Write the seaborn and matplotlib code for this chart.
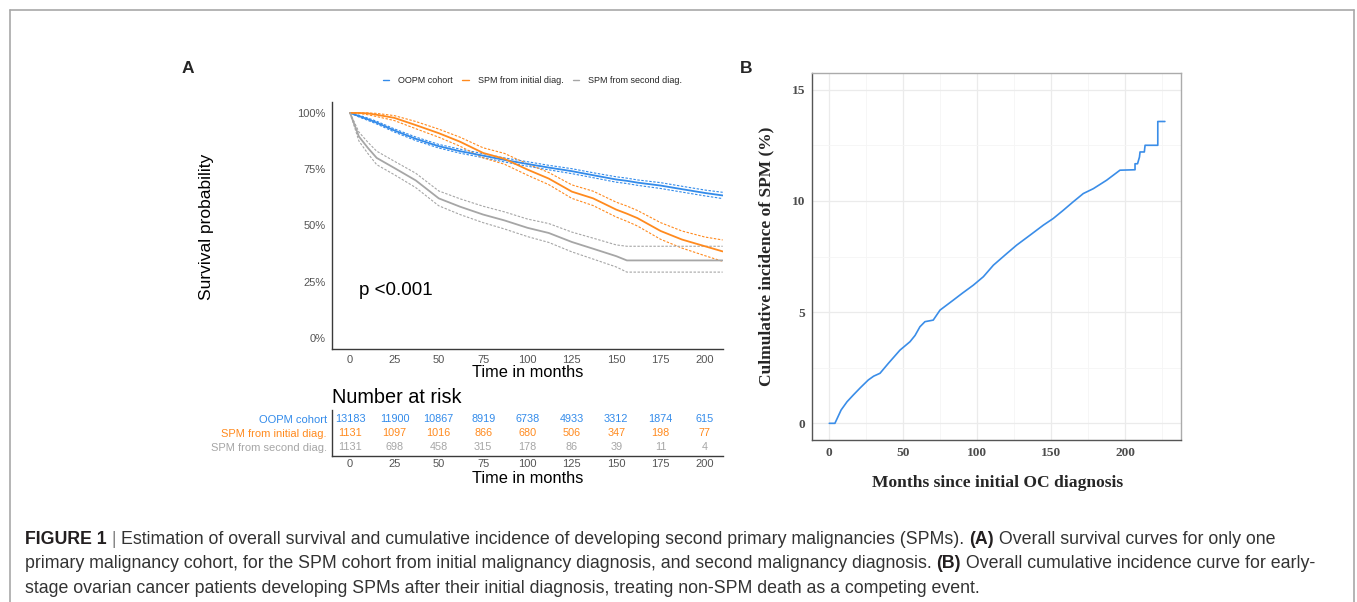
import numpy as np
import pandas as pd
import matplotlib
matplotlib.use("Agg")
import matplotlib.pyplot as plt
import seaborn as sns
from matplotlib.lines import Line2D

# ---------------- data ----------------
group_names = ["OOPM cohort", "SPM from initial diag.", "SPM from second diag."]
group_colors = ["#338BEA", "#FF8A1E", "#A6A6A6"]

times = [0, 5, 10, 15, 25, 37, 50, 62, 75, 87, 100, 112, 125, 137, 150, 156, 162, 175, 187, 200, 210]

oopm_surv = [1.000, 0.986, 0.972, 0.957, 0.922, 0.885, 0.852, 0.830, 0.810, 0.791, 0.773, 0.757,
             0.741, 0.723, 0.704, 0.698, 0.690, 0.677, 0.661, 0.644, 0.633]
oopm_upper = [1.000, 0.990, 0.977, 0.963, 0.929, 0.893, 0.860, 0.839, 0.819, 0.800, 0.783, 0.767,
              0.752, 0.734, 0.716, 0.710, 0.702, 0.690, 0.674, 0.657, 0.647]
oopm_lower = [1.000, 0.982, 0.967, 0.951, 0.915, 0.877, 0.844, 0.821, 0.801, 0.782, 0.763, 0.747,
              0.730, 0.712, 0.692, 0.686, 0.678, 0.664, 0.648, 0.631, 0.619]

init_surv = [1.000, 1.000, 0.998, 0.992, 0.978, 0.946, 0.910, 0.872, 0.822, 0.796, 0.748, 0.708,
             0.650, 0.620, 0.570, 0.552, 0.532, 0.475, 0.437, 0.407, 0.384]
init_upper = [1.000, 1.000, 1.000, 0.998, 0.988, 0.962, 0.928, 0.892, 0.845, 0.820, 0.773, 0.735,
              0.680, 0.652, 0.603, 0.586, 0.566, 0.512, 0.475, 0.448, 0.435]
init_lower = [1.000, 0.998, 0.992, 0.984, 0.966, 0.930, 0.892, 0.852, 0.800, 0.772, 0.723, 0.681,
              0.620, 0.588, 0.537, 0.518, 0.497, 0.438, 0.399, 0.365, 0.340]

sec_surv = [1.000, 0.895, 0.845, 0.800, 0.755, 0.700, 0.620, 0.583, 0.548, 0.522, 0.489, 0.466,
            0.426, 0.396, 0.363, 0.344, 0.344, 0.344, 0.344, 0.344, 0.344]
sec_upper = [1.000, 0.915, 0.870, 0.830, 0.785, 0.732, 0.653, 0.618, 0.585, 0.560, 0.528, 0.508,
             0.470, 0.443, 0.413, 0.407, 0.407, 0.407, 0.407, 0.407, 0.407]
sec_lower = [1.000, 0.875, 0.820, 0.770, 0.725, 0.668, 0.587, 0.548, 0.512, 0.484, 0.450, 0.424,
             0.382, 0.350, 0.315, 0.292, 0.292, 0.292, 0.292, 0.292, 0.292]

risk_times = [0, 25, 50, 75, 100, 125, 150, 175, 200]
risk_oopm = [13183, 11900, 10867, 8919, 6738, 4933, 3312, 1874, 615]
risk_init = [1131, 1097, 1016, 866, 680, 506, 347, 198, 77]
risk_sec = [1131, 698, 458, 315, 178, 86, 39, 11, 4]

p_label = "p <0.001"

cif_months = [0, 3.8, 8, 12, 16.2, 21, 26.4, 30, 34.3, 40, 47.8, 54.6, 58, 61.3, 64.7, 70.3, 74.9,
              83.9, 90, 97.4, 104.2, 111, 120, 126.7, 135.8, 144.8, 151.5, 158.3, 165, 171.8, 178.6,
              187.6, 196.6, 206.8, 206.8, 208.5, 209.8, 210.2, 213.1, 213.6, 222.2, 222.2, 227]
cif_pct = [0, 0, 0.6, 0.97, 1.27, 1.6, 1.95, 2.12, 2.25, 2.7, 3.29, 3.67, 3.95, 4.34, 4.57, 4.64, 5.09,
           5.54, 5.85, 6.21, 6.59, 7.11, 7.63, 8.01, 8.46, 8.91, 9.21, 9.58, 9.96, 10.33, 10.55,
           10.93, 11.38, 11.40, 11.67, 11.67, 11.97, 12.2, 12.2, 12.5, 12.5, 13.57, 13.57]

caption_lines = [
    [("FIGURE 1", True), (" | ", False),
     ("Estimation of overall survival and cumulative incidence of developing second primary malignancies (SPMs). ", False),
     ("(A)", True), (" Overall survival curves for only one", False)],
    [("primary malignancy cohort, for the SPM cohort from initial malignancy diagnosis, and second malignancy diagnosis. ", False),
     ("(B)", True), (" Overall cumulative incidence curve for early-", False)],
    [("stage ovarian cancer patients developing SPMs after their initial diagnosis, treating non-SPM death as a competing event.", False)],
]

# ---------------- figure ----------------
sns.set_style("white")
plt.rcParams["font.family"] = ["Liberation Sans", "DejaVu Sans"]
W, H = 1357, 602
fig = plt.figure(figsize=(W / 100, H / 100), dpi=100)
fig.patch.set_facecolor("white")


def fx(x):
    return x / W


def fy(y):
    return 1 - y / H


def rect(x0, y0, x1, y1):
    return [fx(x0), fy(y1), fx(x1) - fx(x0), fy(y0) - fy(y1)]


# outer frame
fig.add_artist(Line2D([fx(10), fx(10)], [fy(10), 0], color="#A8A8A8", lw=1.2))
fig.add_artist(Line2D([fx(10), fx(1354)], [fy(10), fy(10)], color="#A8A8A8", lw=1.2))
fig.add_artist(Line2D([fx(1354), fx(1354)], [fy(10), 0], color="#A8A8A8", lw=1.2))

axis_dark = "#3A3A3A"
tick_grey = "#555555"
tick_fs = 8.0

# ---------------- Panel A survival ----------------
axA = fig.add_axes(rect(332.3, 101.7, 722.7, 349))
surv_sets = [(oopm_surv, oopm_upper, oopm_lower), (init_surv, init_upper, init_lower),
             (sec_surv, sec_upper, sec_lower)]
for (s, u, l), name, col in zip(surv_sets, group_names, group_colors):
    df = pd.DataFrame({"t": times, "s": s, "u": u, "l": l})
    sns.lineplot(data=df, x="t", y="u", ax=axA, color=col, lw=0.8, linestyle=(0, (2.2, 1.4)),
                 estimator=None, sort=False)
    sns.lineplot(data=df, x="t", y="l", ax=axA, color=col, lw=0.8, linestyle=(0, (2.2, 1.4)),
                 estimator=None, sort=False)
for (s, u, l), name, col in zip(surv_sets, group_names, group_colors):
    df = pd.DataFrame({"t": times, "s": s})
    sns.lineplot(data=df, x="t", y="s", ax=axA, color=col, lw=1.3, estimator=None, sort=False,
                 label=name)
handles, labels = axA.get_legend_handles_labels()
if axA.get_legend() is not None:
    axA.get_legend().remove()

axA.set_xlim(-10, 210)
axA.set_ylim(-0.05, 1.05)
axA.set_xticks(risk_times)
axA.set_yticks([0, 0.25, 0.5, 0.75, 1.0])
axA.set_yticklabels(["0%", "25%", "50%", "75%", "100%"])
axA.set_xlabel("")
axA.set_ylabel("")
for sp in ["top", "right"]:
    axA.spines[sp].set_visible(False)
for sp in ["left", "bottom"]:
    axA.spines[sp].set_color(axis_dark)
    axA.spines[sp].set_linewidth(1.0)
axA.tick_params(axis="both", direction="out", length=3, width=0.8, color=axis_dark,
                labelsize=tick_fs, labelcolor=tick_grey, pad=2)
axA.tick_params(axis="x", length=2.5, pad=1.5)
axA.text(5, 0.19, p_label, fontsize=13.5, color="black", ha="left", va="baseline")

fig.text(fx(206), fy(227), "Survival probability", rotation=90, ha="center", va="center",
         fontsize=12.5, color="black")
fig.text(fx(527.5), fy(376.7), "Time in months", ha="center", va="baseline", fontsize=11.8,
         color="black")
leg = fig.legend(handles, labels, loc="center", bbox_to_anchor=(fx(532.5), fy(80.7)), ncol=3,
                 frameon=False, fontsize=6.5, handlelength=0.75, handletextpad=1.0,
                 columnspacing=1.0)
for lh in leg.get_lines():
    lh.set_linewidth(1.0)
fig.text(fx(182), fy(72.7), "A", fontsize=12.5, fontweight="bold", ha="left", va="baseline")

# ---------------- Risk table ----------------
axR = fig.add_axes(rect(332.3, 410, 722.7, 455.7))
risk_rows = [risk_oopm, risk_init, risk_sec]
for i, (row, col) in enumerate(zip(risk_rows, group_colors)):
    for t, n in zip(risk_times, row):
        axR.text(t, i + 1, str(n), ha="center", va="center", fontsize=7.8, color=col)
axR.set_xlim(-10, 210)
axR.set_ylim(3.6, 0.4)
axR.set_xticks(risk_times)
axR.set_yticks([1, 2, 3])
axR.set_yticklabels(group_names)
for lab, col in zip(axR.get_yticklabels(), group_colors):
    lab.set_color(col)
for sp in ["top", "right"]:
    axR.spines[sp].set_visible(False)
for sp in ["left", "bottom"]:
    axR.spines[sp].set_color(axis_dark)
    axR.spines[sp].set_linewidth(1.0)
axR.tick_params(axis="both", direction="out", length=2.5, width=0.8, color=axis_dark,
                labelsize=tick_fs, pad=1.5)
axR.tick_params(axis="x", labelcolor=tick_grey, length=2.0, pad=0.3)
fig.text(fx(332), fy(402.7), "Number at risk", ha="left", va="baseline", fontsize=14.3,
         color="black")
fig.text(fx(527.5), fy(482.7), "Time in months", ha="center", va="baseline", fontsize=11.8,
         color="black")

# ---------------- Panel B ----------------
axB = fig.add_axes(rect(812, 73, 1181, 440))
axB.set_xticks([0, 50, 100, 150, 200])
axB.set_xticks([25, 75, 125, 175, 225], minor=True)
axB.set_yticks([0, 5, 10, 15])
axB.set_yticks([2.5, 7.5, 12.5], minor=True)
axB.grid(which="major", color="#EBEBEB", lw=0.9)
axB.grid(which="minor", color="#F5F5F5", lw=0.6)
axB.set_axisbelow(True)
dfB = pd.DataFrame({"m": cif_months, "c": cif_pct})
sns.lineplot(data=dfB, x="m", y="c", ax=axB, color="#3A8DE8", lw=1.2, estimator=None, sort=False)
axB.set_xlim(-11.7, 237.9)
axB.set_ylim(-0.75, 15.75)
axB.set_xlabel("")
axB.set_ylabel("")
for sp in ["top", "right"]:
    axB.spines[sp].set_color("#ABABAB")
    axB.spines[sp].set_linewidth(1.0)
for sp in ["left", "bottom"]:
    axB.spines[sp].set_color("#555555")
    axB.spines[sp].set_linewidth(1.0)
axB.tick_params(axis="both", which="major", direction="out", length=3, width=0.8,
                color="#555555", labelsize=9.6, labelcolor="#4D4D4D", pad=2)
axB.tick_params(axis="both", which="minor", length=0)
for lab in axB.get_xticklabels() + axB.get_yticklabels():
    lab.set_family(["Liberation Serif", "DejaVu Serif"])
    lab.set_fontweight("bold")
fig.text(fx(997.5), fy(487.3), "Months since initial OC diagnosis", ha="center", va="baseline",
         fontsize=12.6, fontweight="bold", family=["Liberation Serif", "DejaVu Serif"])
fig.text(fx(766), fy(256.5), "Culmulative incidence of SPM (%)", rotation=90, ha="center",
         va="center", fontsize=12.5, fontweight="bold", family=["Liberation Serif", "DejaVu Serif"])
fig.text(fx(740), fy(72.7), "B", fontsize=12.5, fontweight="bold", ha="left", va="baseline")

# ---------------- caption ----------------
fig.canvas.draw()
renderer = fig.canvas.get_renderer()
cap_color = "#333333"
baselines = [544, 568.5, 593]


def draw_line(segs, yb, fs, keep=True):
    x = 25
    made = []
    for s, bold in segs:
        t = fig.text(fx(x), fy(yb), s, fontsize=fs, fontweight="bold" if bold else "normal",
                     color="#231F20" if bold else (cap_color if s.strip() != "|" else "#888888"),
                     ha="left", va="baseline")
        bb = t.get_window_extent(renderer=renderer)
        x += bb.width
        made.append(t)
    if not keep:
        for t in made:
            t.remove()
    return x


base_fs = 11.0
end2 = draw_line(caption_lines[1], baselines[1], base_fs, keep=False)
cap_fs = base_fs * (1316 - 25) / (end2 - 25)
for segs, yb in zip(caption_lines, baselines):
    draw_line(segs, yb, cap_fs)

fig.savefig("out.png", dpi=100, facecolor="white")
